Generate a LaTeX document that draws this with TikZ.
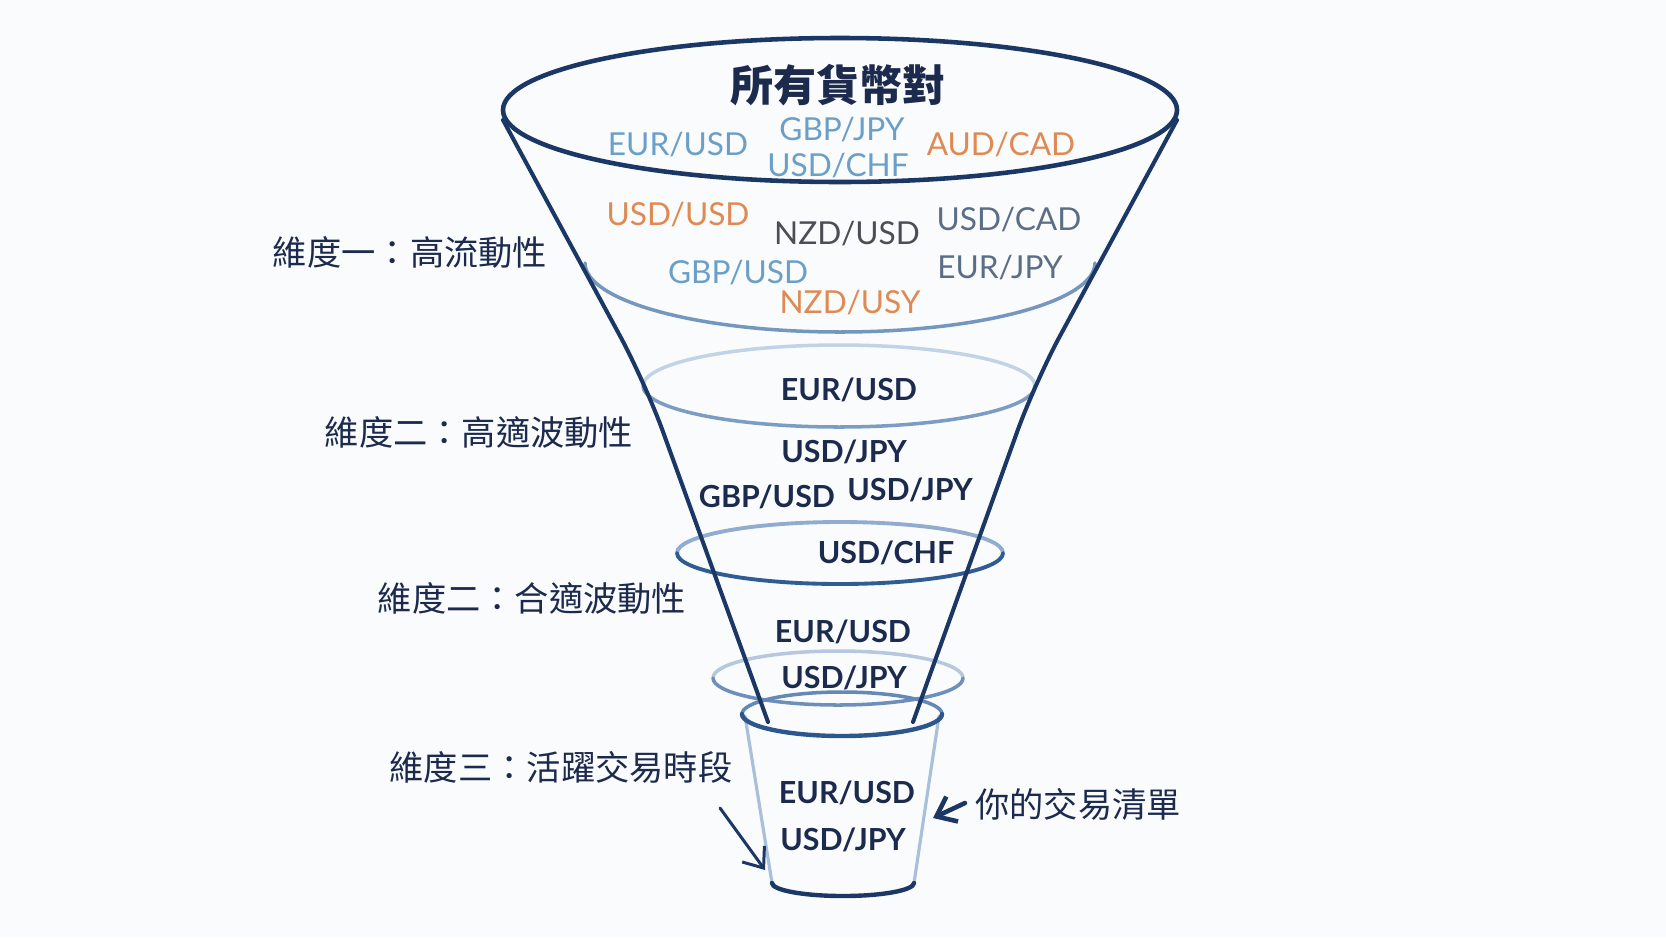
\documentclass[tikz,border=0pt]{standalone}
\usepackage{fontspec}
\setmainfont{Lato}
\newfontfamily\cjk{Noto Sans CJK TC}
\usetikzlibrary{arrows.meta}
\definecolor{navy}{HTML}{1B3765}
\definecolor{inkblue}{HTML}{1C2A4E}
\definecolor{skyblue}{HTML}{6A9FC9}
\definecolor{amber}{HTML}{DE8A52}
\definecolor{slate}{HTML}{5C6D86}
\definecolor{dkgray}{HTML}{4B4E55}
\definecolor{ringlt}{HTML}{C3D3E7}
\definecolor{ringmd}{HTML}{7C9CC4}
\definecolor{ringdk}{HTML}{2F5C93}
\definecolor{cupside}{HTML}{A9BFDA}
\definecolor{paper}{HTML}{FAFBFC}

\begin{document}
\begin{tikzpicture}[x=0.02cm, y=0.02cm, line cap=round,
  >={Straight Barb[length=3.5mm, width=5.5mm]},
  pair/.style={font=\fontsize{18}{20}\selectfont, anchor=base},
  pairb/.style={font=\fontsize{17.3}{20}\selectfont\bfseries, text=inkblue, anchor=base},
  dimlabel/.style={font=\cjk\fontsize{19.5}{22}\selectfont, text=inkblue}]

% Background
\fill[paper] (0,0) rectangle (1666,-937);
\useasboundingbox (0,0) rectangle (1666,-937);

% --- Rings (drawn BEFORE the funnel walls) ---

% ring 1: front arc only
\draw[ringmd!90!ringdk, line width=2pt]
  (585,-263) arc[start angle=180, end angle=360, x radius=255, y radius=69];

% ring 2
\draw[ringlt, line width=2pt]
  (643,-386) arc[start angle=180, end angle=0, x radius=196, y radius=41];
\draw[ringmd, line width=2pt]
  (643,-386) arc[start angle=180, end angle=360, x radius=196, y radius=41];

% ring 3
\draw[ringmd!70!ringlt, line width=2.2pt]
  (677,-553) arc[start angle=180, end angle=0, x radius=163, y radius=31];
\draw[ringdk, line width=2.2pt]
  (677,-553) arc[start angle=180, end angle=360, x radius=163, y radius=31];

% ring 4
\draw[ringlt!80!ringmd, line width=2pt]
  (713,-678) arc[start angle=180, end angle=0, x radius=125, y radius=27];
\draw[ringmd!80!ringdk, line width=2pt]
  (713,-678) arc[start angle=180, end angle=360, x radius=125, y radius=27];

% --- Cup ---
\draw[ringmd!70!ringdk, line width=2pt]
  (742,-714) arc[start angle=180, end angle=0, x radius=100, y radius=22];
\draw[cupside, line width=1.8pt] (745,-716) -- (772,-883);
\draw[cupside, line width=1.8pt] (939,-716) -- (914,-883);
\draw[navy, line width=2.5pt]
  (772,-883) arc[start angle=180, end angle=360, x radius=71, y radius=13];

% --- Funnel walls ---
\draw[navy, line width=2.3pt, rounded corners=30pt]
  (503,-120) -- (645,-382) -- (768,-722);
\draw[navy, line width=2.3pt, rounded corners=30pt]
  (1177,-120) -- (1035,-382) -- (913,-722);

% cup rim in front of the walls
\draw[ringdk!85!navy, line width=2.5pt]
  (742,-714) arc[start angle=180, end angle=360, x radius=100, y radius=22];

% top opening
\draw[navy, line width=2.6pt] (840,-110) ellipse[x radius=337, y radius=72];

% --- Title ---
\node[font=\cjk\fontsize{24.5}{28}\selectfont\bfseries, text=inkblue] (title)
  at (838,-85) {所有貨幣對};

% --- All pairs ---
\node[pair, text=skyblue] (p1) at (678,-155) {EUR/USD};
\node[pair, text=skyblue] (p2) at (842,-140) {GBP/JPY};
\node[pair, text=skyblue] (p3) at (838,-176) {USD/CHF};
\node[pair, text=amber] (p4) at (1001,-155) {AUD/CAD};
\node[pair, text=amber] (p5) at (678,-225) {USD/USD};
\node[pair, text=dkgray] (p6) at (847,-244) {NZD/USD};
\node[pair, text=slate] (p7) at (1009,-230) {USD/CAD};
\node[pair, text=skyblue] (p8) at (738,-283) {GBP/USD};
\node[pair, text=slate] (p9) at (1000,-278) {EUR/JPY};
\node[pair, text=amber] (p10) at (850,-313) {NZD/USY};

% --- Filtered pairs ---
\node[pairb] (q1) at (849,-400) {EUR/USD};
\node[pairb] (q2) at (844,-462) {USD/JPY};
\node[pairb] (q3) at (767,-507) {GBP/USD};
\node[pairb] (q4) at (910,-500) {USD/JPY};
\node[pairb] (q5) at (886,-563) {USD/CHF};
\node[pairb] (q6) at (843,-642) {EUR/USD};
\node[pairb] (q7) at (844,-688) {USD/JPY};
\node[pairb] (q8) at (847,-803) {EUR/USD};
\node[pairb] (q9) at (843,-850) {USD/JPY};

% --- Dimension labels ---
\node[dimlabel] (dim1) at (410,-252) {維度一：高流動性};
\node[dimlabel] (dim2) at (479,-432) {維度二：高適波動性};
\node[dimlabel] (dim3) at (532,-598) {維度二：合適波動性};
\node[dimlabel] (dim4) at (561,-767) {維度三：活躍交易時段};
\node[dimlabel] (mylist) at (1078,-804) {你的交易清單};

% --- Arrows ---
\coordinate (tailA) at (720,-808);
\coordinate (cupL) at (765,-870);
\coordinate (tailB) at (965,-803);
\coordinate (cupR) at (933,-818);
\draw[->, navy, line width=1.7pt] (tailA) -- (cupL);
\draw[->, navy, line width=2.6pt] (tailB) -- (cupR);

\end{tikzpicture}
\end{document}
